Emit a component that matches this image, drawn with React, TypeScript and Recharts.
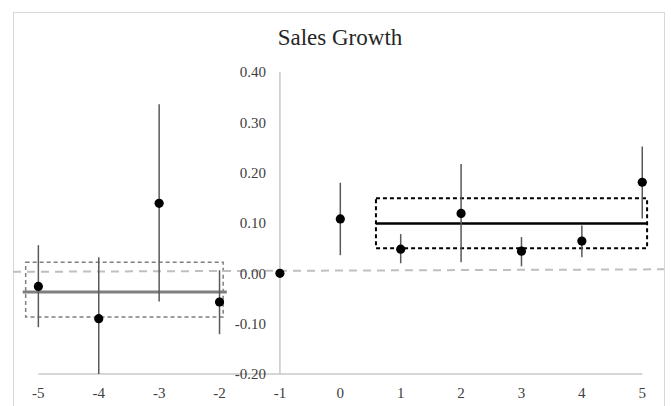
import { ComposedChart, Scatter, ErrorBar, XAxis, YAxis, ReferenceLine, ReferenceArea, ReferenceDot } from 'recharts';

// event-time periods and estimates
const periods = [-5, -4, -3, -2, -1, 0, 1, 2, 3, 4, 5];
const estimates = [-0.026, -0.09, 0.139, -0.057, 0.0, 0.108, 0.048, 0.119, 0.044, 0.064, 0.181];
const lower = [-0.107, -0.2, -0.056, -0.121, 0.0, 0.036, 0.02, 0.022, 0.014, 0.032, 0.109];
const upper = [0.056, 0.032, 0.336, 0.006, 0.0, 0.18, 0.078, 0.217, 0.072, 0.095, 0.252];

const yTicks = [0.4, 0.3, 0.2, 0.1, 0, -0.1, -0.2];

// pre / post averages and their bands
const preMean = -0.037;
const preLine = [-5.26, -1.88];
const preBand = { x: [-5.21, -1.94], y: [-0.087, 0.022] };
const postMean = 0.099;
const postLine = [0.59, 5.07];
const postBand = { x: [0.59, 5.08], y: [0.05, 0.149] };

// dashed trend line across the whole plot
const trendX = [-5.42, 5.36];
const trendY = [0.003, 0.008];

const data = periods.map((x, i) => ({
  x,
  y: estimates[i],
  err: [estimates[i] - lower[i], upper[i] - estimates[i]],
}));

const font = '"Liberation Serif", "Times New Roman", serif';
const labelColor = '#404040';

const Dot = (props: any) => {
  const { cx, cy } = props;
  return <circle cx={cx} cy={cy} r={4.6} fill="#000" />;
};

export default function App() {
  return (
    <div style={{ position: 'absolute', left: 0, top: 0, width: 671, height: 406, background: '#fff', overflow: 'hidden' }}>
      <div
        style={{
          position: 'absolute',
          left: 13,
          top: 12,
          width: 652,
          height: 420,
          border: '1px solid #d9d9d9',
          boxSizing: 'border-box',
        }}
      />
      <div
        style={{
          position: 'absolute',
          left: 0,
          top: 26,
          width: 680,
          textAlign: 'center',
          fontFamily: font,
          fontSize: 23,
          lineHeight: 1,
          color: '#262626',
        }}
      >
        Sales Growth
      </div>
      <div style={{ position: 'absolute', left: 0, top: 0 }}>
        <ComposedChart width={671} height={406} data={data} margin={{ top: 72, right: 7, bottom: 12, left: 13 }}>
          <XAxis
            type="number"
            dataKey="x"
            domain={trendX}
            allowDataOverflow
            ticks={periods}
            axisLine={false}
            tickLine={false}
            tickSize={6}
            tickMargin={7}
            height={20}
            interval={0}
            tick={{ fill: labelColor, fontSize: 15, fontFamily: font }}
          />
          <YAxis type="number" dataKey="y" domain={[-0.2, 0.4]} allowDataOverflow hide />

          <ReferenceLine
            segment={[{ x: trendX[0], y: trendY[0] }, { x: trendX[1], y: trendY[1] }]}
            stroke="#bfbfbf"
            strokeWidth={2}
            strokeDasharray="8 6"
          />
          <ReferenceLine segment={[{ x: -1, y: -0.2 }, { x: -1, y: 0.4 }]} stroke="#c8c8c8" strokeWidth={1.5} />
          <ReferenceLine segment={[{ x: -5, y: -0.2 }, { x: 5, y: -0.2 }]} stroke="#c8c8c8" strokeWidth={1.5} />

          <ReferenceArea
            x1={preBand.x[0]}
            x2={preBand.x[1]}
            y1={preBand.y[0]}
            y2={preBand.y[1]}
            fill="none"
            fillOpacity={0}
            stroke="#7f7f7f"
            strokeWidth={1.5}
            strokeDasharray="4 3"
          />
          <ReferenceArea
            x1={postBand.x[0]}
            x2={postBand.x[1]}
            y1={postBand.y[0]}
            y2={postBand.y[1]}
            fill="none"
            fillOpacity={0}
            stroke="#000"
            strokeWidth={2}
            strokeDasharray="4 3"
          />
          <ReferenceLine
            segment={[{ x: preLine[0], y: preMean }, { x: preLine[1], y: preMean }]}
            stroke="#7f7f7f"
            strokeWidth={3}
          />
          <ReferenceLine
            segment={[{ x: postLine[0], y: postMean }, { x: postLine[1], y: postMean }]}
            stroke="#000"
            strokeWidth={2.5}
          />

          {yTicks.map((t) => (
            <ReferenceDot
              key={t}
              x={-1}
              y={t}
              r={0}
              fill="none"
              stroke="none"
              label={{
                value: t.toFixed(2),
                position: 'left',
                offset: 14,
                fill: labelColor,
                fontSize: 15,
                fontFamily: font,
              }}
            />
          ))}

          <Scatter dataKey="y" shape={Dot} isAnimationActive={false}>
            <ErrorBar dataKey="err" direction="y" width={0} stroke="#595959" strokeWidth={1.5} />
          </Scatter>
        </ComposedChart>
      </div>
    </div>
  );
}
